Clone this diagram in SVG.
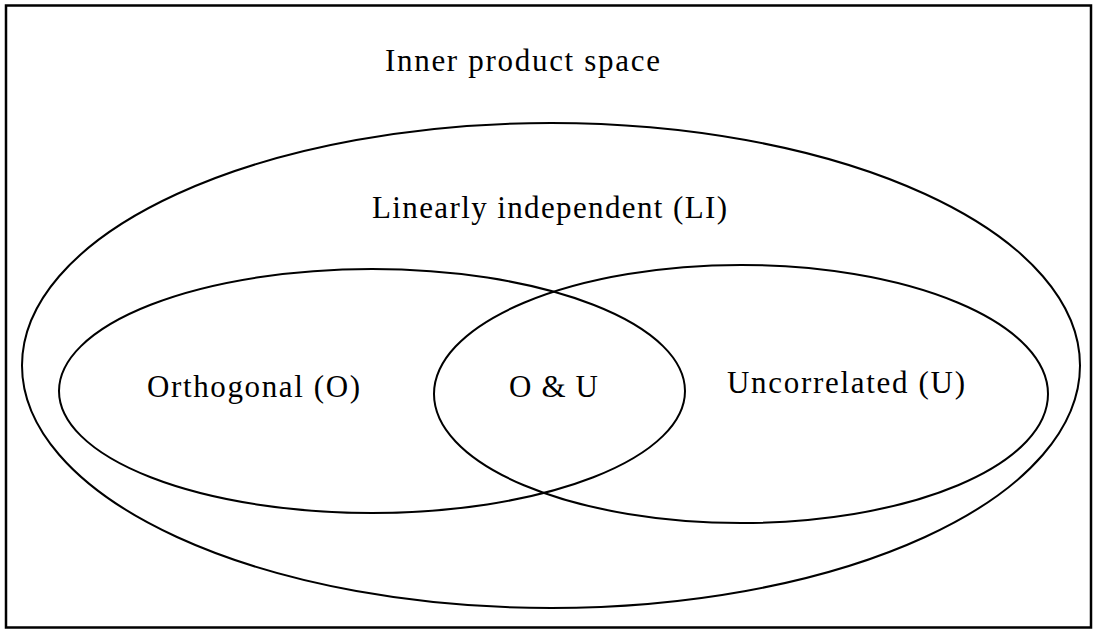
<svg xmlns="http://www.w3.org/2000/svg" width="1093" height="631" viewBox="0 0 1093 631">
<style>
.shape{fill:none;stroke:#000;stroke-width:2}
.frame{fill:none;stroke:#000;stroke-width:2.5}
.lbl{font-family:"Liberation Serif","Times New Roman",serif;font-size:31px;fill:#000}
</style>
<rect width="1093" height="631" fill="#fff"/>
<g id="inner-product-space">
<rect class="frame" x="6" y="5.5" width="1085" height="622"/>
<text class="lbl" x="385" y="71" textLength="275" lengthAdjust="spacing">Inner product space</text>
</g>
<g id="linearly-independent">
<ellipse class="shape" cx="551" cy="365.5" rx="529" ry="242.5"/>
<text class="lbl" x="372" y="218" textLength="355" lengthAdjust="spacing">Linearly independent (LI)</text>
</g>
<g id="orthogonal">
<ellipse class="shape" cx="372" cy="391" rx="313" ry="122"/>
<text class="lbl" x="147" y="397" textLength="213" lengthAdjust="spacing">Orthogonal (O)</text>
</g>
<g id="uncorrelated">
<ellipse class="shape" cx="741" cy="394" rx="307" ry="129"/>
<text class="lbl" x="727" y="393" textLength="238" lengthAdjust="spacing">Uncorrelated (U)</text>
</g>
<g id="o-and-u">
<text class="lbl" x="509" y="397" textLength="89" lengthAdjust="spacing">O &amp; U</text>
</g>
<g id="connectors"></g>
</svg>
